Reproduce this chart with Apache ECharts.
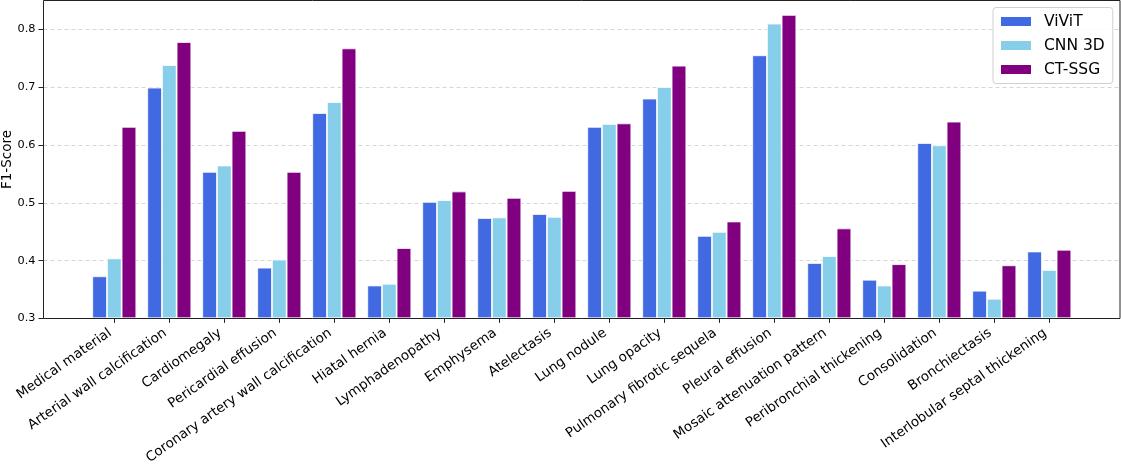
<!DOCTYPE html>
<html>
<head>
<meta charset="utf-8">
<script src="https://cdn.jsdelivr.net/npm/echarts@6/dist/echarts.min.js"></script>
<style>
html,body{margin:0;padding:0;background:#fff;}
#chart{width:1121px;height:467px;}
</style>
</head>
<body>
<div id="chart"></div>
<script>
const categories = ["Medical material","Arterial wall calcification","Cardiomegaly","Pericardial effusion","Coronary artery wall calcification","Hiatal hernia","Lymphadenopathy","Emphysema","Atelectasis","Lung nodule","Lung opacity","Pulmonary fibrotic sequela","Pleural effusion","Mosaic attenuation pattern","Peribronchial thickening","Consolidation","Bronchiectasis","Interlobular septal thickening"];
const vivit = [0.372,0.699,0.553,0.387,0.655,0.356,0.501,0.473,0.480,0.631,0.680,0.442,0.755,0.395,0.366,0.603,0.347,0.415];
const cnn3d = [0.403,0.738,0.564,0.401,0.674,0.359,0.504,0.474,0.475,0.636,0.700,0.449,0.810,0.407,0.356,0.599,0.333,0.383];
const ctssg = [0.631,0.778,0.624,0.553,0.767,0.421,0.519,0.508,0.520,0.637,0.737,0.467,0.825,0.455,0.393,0.640,0.391,0.418];
const yTicks = [0.3,0.4,0.5,0.6,0.7,0.8];
const yTitle = 'F1-Score';
const seriesNames = ["ViViT","CNN 3D","CT-SSG"];
const colors = ["#4169E1","#87CEEB","#800080"];

const chart = echarts.init(document.getElementById('chart'), null, {renderer:'canvas'});
const FONT = 'DejaVu Sans';
const gTop = 0.5, gBottom = 467 - 318.5;
const series = [vivit, cnn3d, ctssg].map((d,i)=>({
  name: seriesNames[i], type:'bar', xAxisIndex:1, yAxisIndex:1,
  data: d, barWidth: 14.67, barGap:'0%',
  itemStyle:{color:colors[i], borderColor:'#fff', borderWidth:0.8},
  z: 3
}));
chart.setOption({
  animation:false,
  textStyle:{fontFamily:FONT},
  grid:[
    {left:43.5, right:1, top:gTop, bottom:gBottom, show:true, borderColor:'#222', borderWidth:1, backgroundColor:'transparent', z:4},
    {left:86.8, right:44.2, top:gTop, bottom:gBottom}
  ],
  graphic:[{
    type:'text', x:7, y:159.5, rotation:Math.PI/2,
    style:{text:yTitle, font:'13.5px "DejaVu Sans"', fill:'#000', align:'center', verticalAlign:'middle'}
  }],
  legend:{
    orient:'vertical', left:993, top:7.5, data:seriesNames,
    itemWidth:32, itemHeight:11, itemGap:8, icon:'rect',
    padding:[6,8,6,6],
    borderColor:'#d0d0d0', borderWidth:1, borderRadius:3, backgroundColor:'rgba(255,255,255,0.85)',
    textStyle:{fontFamily:FONT, fontSize:15.5, color:'#000', padding:[0,0,0,7]}
  },
  xAxis:[
    {gridIndex:0, type:'value', show:false, min:0, max:1},
    {gridIndex:1, type:'category', data:categories, boundaryGap:true,
     axisLine:{show:false},
     axisTick:{show:true, alignWithLabel:true, length:5, lineStyle:{color:'#222', width:1}},
     axisLabel:{interval:0, rotate:35, fontFamily:FONT, fontSize:13.5, color:'#000', margin:11, padding:[0,5,0,0]}
    }
  ],
  yAxis:[
    {gridIndex:0, type:'value', min:0.3, max:0.85, interval:0.1,
     axisLine:{show:false},
     axisTick:{show:true, length:5, lineStyle:{color:'#222'}, customValues:yTicks},
     axisLabel:{fontFamily:FONT, fontSize:11.3, color:'#000', margin:8, customValues:yTicks, formatter:v=>v.toFixed(1)},
     splitLine:{show:true, lineStyle:{color:'#d6d6d6', type:[4,3], width:1}}
    },
    {gridIndex:1, type:'value', min:0.3, max:0.85, show:false, splitLine:{show:false}}
  ],
  series: series
});
</script>
</body>
</html>
